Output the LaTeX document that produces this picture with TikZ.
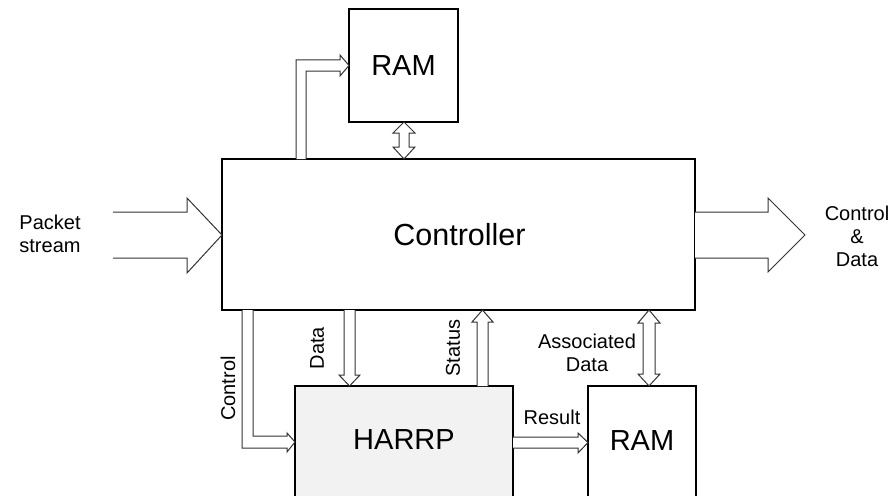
\documentclass[tikz,border=0pt]{standalone}
\usepackage{fontspec}
\setmainfont{Liberation Sans}
\usepackage{tikz}
\usetikzlibrary{arrows.meta}

\begin{document}
\begin{tikzpicture}[x=1pt,y=-1pt,
  block/.style={draw,line width=1.6pt},
  bigtext/.style={font=\fontsize{29}{34}\selectfont},
  smalltext/.style={font=\fontsize{20}{23}\selectfont,align=center},
  hollow/.style={draw=black!80,line width=1pt,fill=white,line join=miter}]
\useasboundingbox(0,0)rectangle(896,495);
\clip(0,0)rectangle(896,495);
% boxes
\draw[block](349,9)rectangle(458,122);
\node[bigtext](ramtop)at(403.5,65.5){RAM};
\draw[block](222,159)rectangle(695,310);
\node[bigtext,font=\fontsize{30.5}{34}\selectfont](ctrl)at(459.5,234.5){Controller};
\draw[block,fill=black!5](295,386)rectangle(513,530);
\node[bigtext](harrp)at(404,440){HARRP};
\draw[block](588,386)rectangle(696,530);
\node[bigtext](rambot)at(642,441){RAM};
% wide arrows in and out
\draw[hollow](113,212)--(187,212)--(187,198)--(222,235)--(187,273)--(187,258)--(113,258);
\draw[hollow](695,212)--(768,212)--(768,198)--(805,235)--(768,272)--(768,258)--(695,258);
% top arrows
\draw[hollow](296,159)--(296,60)--(340,60)--(340,55)--(349,65.5)--(340,76)--(340,71)--(306,71)--(306,159);
\draw[hollow](404,122)--(415,133)--(409,133)--(409,147)--(415,147)--(404,159)--(393,147)--(399,147)--(399,133)--(393,133)--cycle;
% bottom arrows
\draw[hollow](242,310)--(242,448)--(287,448)--(287,452)--(295,442)--(287,433)--(287,436)--(253,436)--(253,310);
\draw[hollow](344,310)--(344,375)--(339,375)--(349.5,386)--(360,375)--(355,375)--(355,310);
\draw[hollow](477,386)--(477,322)--(472,322)--(482.5,310)--(493,322)--(488,322)--(488,386);
\draw[hollow](649,310)--(660,323)--(655,323)--(655,374)--(660,374)--(649,386)--(638,374)--(643,374)--(643,323)--(638,323)--cycle;
\draw[hollow](513,437)--(578,437)--(578,433)--(588,442.5)--(578,453)--(578,448)--(513,448);
% labels
\node[smalltext](pkt)at(50,234){Packet\\stream};
\node[smalltext](out)at(857,236){Control\\\&\\Data};
\node[smalltext,rotate=90](lctrl)at(228,388.5){Control};
\node[smalltext,rotate=90](ldata)at(317,348){Data};
\node[smalltext,rotate=90](lstat)at(453,348){Status};
\node[smalltext](lassoc)at(587,353){Associated\\Data};
\node[smalltext](lres)at(552,417){Result};
\end{tikzpicture}
\end{document}
